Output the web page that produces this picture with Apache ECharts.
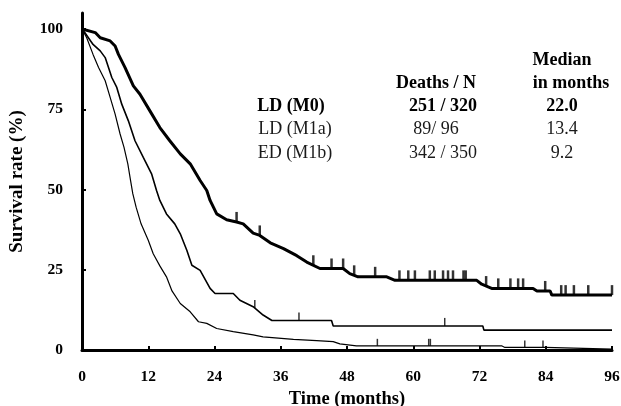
<!DOCTYPE html>
<html>
<head>
<meta charset="utf-8">
<script src="https://cdn.jsdelivr.net/npm/echarts@6/dist/echarts.min.js"></script>
<style>html,body{margin:0;padding:0;background:#fff}#c{width:621px;height:406px}</style>
</head>
<body>
<div id="c"></div>
<script>
// ---- data ----
const xTicks = [0, 12, 24, 36, 48, 60, 72, 84, 96];
const yTicks = [0, 25, 50, 75, 100];

const ldM0 = [[0,100],[2.4,98.9],[3.3,97.3],[5.1,96.3],[6,94.7],[6.6,92.1],[7.8,88],[9.3,82.3],[10.5,79.7],[12.3,74.5],[14.1,69.3],[15.9,65.2],[17.8,61.1],[19.6,58],[21.4,52.8],[22.6,49.7],[23.2,46.6],[24.4,42.4],[26.2,40.6],[28,39.9],[29.2,39.3],[31,36.4],[32.2,35.7],[34.1,33.4],[36.5,31.6],[38.9,29.4],[40.7,27.4],[43.1,25.4],[47.3,25.4],[48.5,23.8],[50,22.8],[55.2,22.8],[56.7,21.7],[71.5,21.7],[72.4,20.5],[74.2,19.2],[81.7,19.2],[82.4,18.4],[84.8,18.4],[85.1,17.1],[96,17.1]];
const ldM1a = [[0,100],[0.5,98.9],[2,95.2],[3.3,93.2],[4.2,91.1],[4.8,88],[5.4,84.9],[6.3,81.8],[7.2,76.6],[8.4,71.4],[9.6,65.2],[11.1,60],[12.6,54.9],[13.5,49.7],[14.1,46.6],[15.3,42.4],[16.8,39.3],[17.8,36.2],[19,31],[19.9,26.4],[21.4,24.8],[23.2,19.2],[24.1,17.6],[27.4,17.6],[28.6,15.5],[31,13.5],[32.8,10.9],[34.4,9.2],[45.2,9.2],[45.5,7.5],[72.6,7.5],[72.8,6.2],[96,6.2]];
const edM1b = [[0,100],[0.85,97.3],[2,92.1],[3,88],[4.2,83.9],[5.1,78.7],[6,73.5],[6.9,67.3],[7.6,63.2],[8.3,58],[8.8,52.8],[9.2,48.7],[9.8,44.5],[10.7,39.3],[12,34.2],[12.9,30],[14.1,26.2],[15.3,22.8],[16.3,18.4],[17.8,14.5],[19.6,11.9],[21.1,8.8],[22.6,8.3],[24.4,6.7],[27.4,5.7],[31,4.7],[32.8,4.1],[38.3,3.3],[42.5,2.9],[45.5,2.6],[46.7,1.9],[49.7,1.3],[76,1.3],[76.6,0.8],[83.9,0.8],[84.1,0.3],[96,0.3]];

const censM0 = [28.0,32.2,41.9,45.2,47.3,49.3,53.1,57.5,59.1,60.3,63.0,63.9,65.4,66.3,67.2,69.1,69.5,73.2,75.4,77.6,79.0,79.9,83.9,86.8,87.6,89.1,91.7,96];
const censM1a = [31.3,39.3,65.7];
const censM1b = [53.5,62.8,63.1,80.2,83.5];

const groups = ['LD (M0)', 'LD (M1a)', 'ED (M1b)'];
const deaths = ['251 / 320', '89/ 96', '342 / 350'];
const medians = ['22.0', '13.4', '9.2'];

// value on curve at time t
function at(curve, t) {
  for (let i = curve.length - 1; i >= 0; i--) {
    if (curve[i][0] <= t) {
      if (i === curve.length - 1) return curve[i][1];
      const a = curve[i], b = curve[i + 1];
      if (b[0] === a[0]) return b[1];
      return a[1] + (b[1] - a[1]) * (t - a[0]) / (b[0] - a[0]);
    }
  }
  return curve[0][1];
}
const cens = (curve, ts) => ts.map(t => [t, at(curve, t)]);

const FONT = 'Liberation Serif, Times New Roman, serif';
const chart = echarts.init(document.getElementById('c'), null, {renderer: 'canvas'});

function txt(s, x, y, bold) {
  return {type: 'text', x: x, y: y, style: {text: s, font: (bold ? 'bold ' : '') + '18px ' + FONT, fill: bold ? '#000' : '#1a1a1a', align: 'center', verticalAlign: 'middle'}};
}
const rowsY = [106, 129, 153];
const graphics = [
  txt('Median', 562, 60, true),
  txt('Deaths / N', 436, 83, true),
  txt('in months', 571, 83, true)
];
groups.forEach((g, i) => {
  const b = i === 0;
  graphics.push(txt(g, i === 0 ? 291 : 295, rowsY[i], b));
  graphics.push(txt(deaths[i], i === 1 ? 436 : 443, rowsY[i], b));
  graphics.push(txt(medians[i], 562, rowsY[i], b));
});

const lineSeries = (data, w) => ({type: 'line', data: data, showSymbol: false, symbol: 'none', lineStyle: {color: '#000', width: w}, animation: false, z: 3});
const censSeries = (data, w, h) => ({type: 'scatter', data: data, symbol: 'rect', symbolSize: [w, h], symbolOffset: [0, -h / 2], itemStyle: {color: '#000'}, animation: false, z: 4});

chart.setOption({
  animation: false,
  backgroundColor: '#fff',
  grid: {left: 82, right: 9, top: 13, bottom: 56, containLabel: false, outerBoundsMode: 'none'},
  xAxis: {
    type: 'value', min: 0, max: 96, interval: 12,
    name: 'Time (months)', nameLocation: 'middle', nameGap: 38,
    nameTextStyle: {fontFamily: FONT, fontWeight: 'bold', fontSize: 18.5, color: '#000'},
    axisLine: {show: true, onZero: false, lineStyle: {color: '#000', width: 3}},
    axisTick: {show: true, inside: true, length: 4, lineStyle: {color: '#000', width: 2}},
    axisLabel: {fontFamily: FONT, fontWeight: 'bold', fontSize: 15.5, color: '#000', margin: 19, customValues: xTicks},
    splitLine: {show: false}
  },
  yAxis: {
    type: 'value', min: 0, max: 105, interval: 25,
    name: 'Survival rate (%)', nameLocation: 'middle', nameGap: 55, nameRotate: 90,
    nameTextStyle: {fontFamily: FONT, fontWeight: 'bold', fontSize: 19, color: '#000'},
    axisLine: {show: true, onZero: false, lineStyle: {color: '#000', width: 3}},
    axisTick: {show: true, inside: true, length: 4, lineStyle: {color: '#000', width: 2}, customValues: yTicks},
    axisLabel: {fontFamily: FONT, fontWeight: 'bold', fontSize: 15.5, color: '#000', margin: 19, customValues: yTicks},
    splitLine: {show: false}
  },
  series: [
    lineSeries(edM1b, 1.2),
    lineSeries(ldM1a, 1.6),
    lineSeries(ldM0, 3),
    censSeries(cens(ldM0, censM0), 2.5, 10),
    censSeries(cens(ldM1a, censM1a), 1.5, 8),
    censSeries(cens(edM1b, censM1b), 1.5, 7)
  ],
  graphic: graphics
});
</script>
</body>
</html>
